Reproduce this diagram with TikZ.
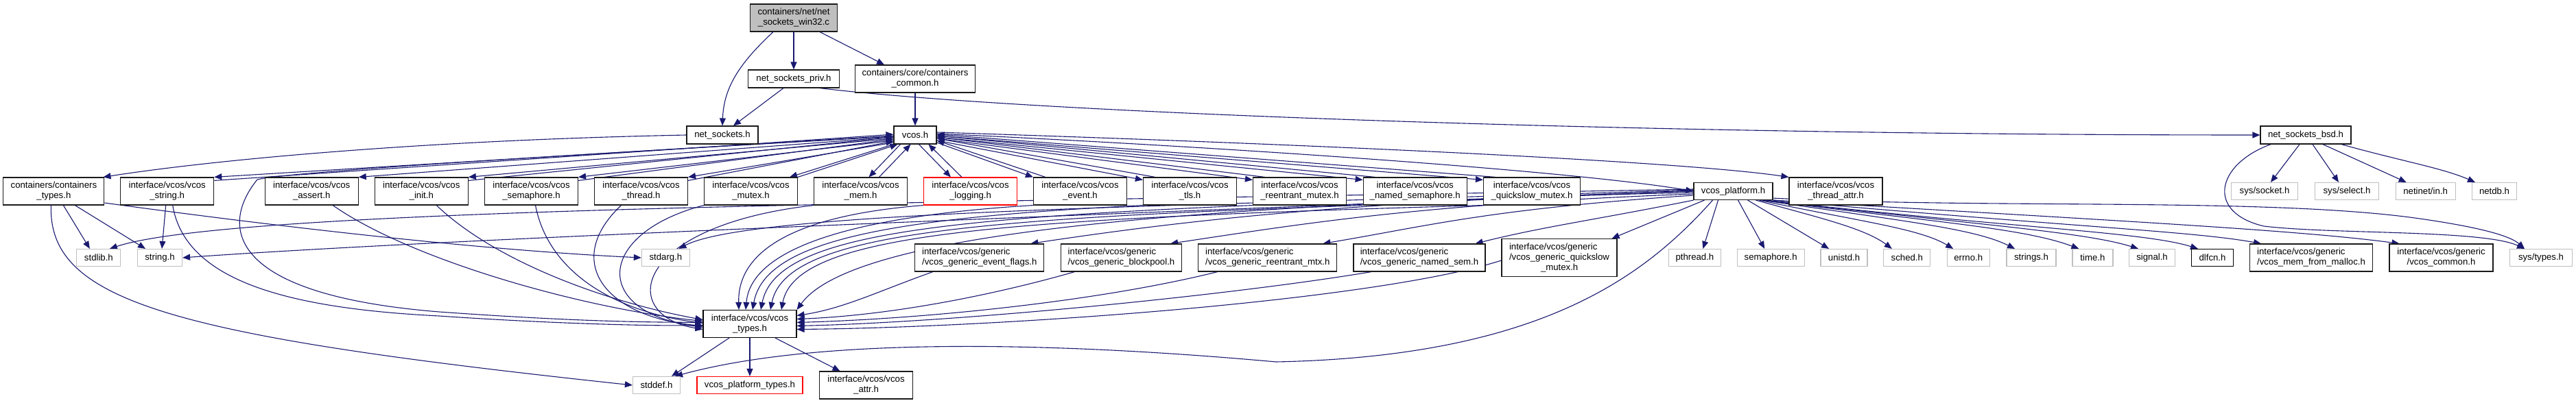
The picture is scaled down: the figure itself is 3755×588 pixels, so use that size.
\documentclass[tikz,border=0pt]{standalone}
\usepackage{fontspec}
\setmainfont{Liberation Sans}
\usetikzlibrary{arrows.meta}
\definecolor{edgec}{HTML}{191970}
\definecolor{grayb}{HTML}{BFBFBF}
\definecolor{boxb}{HTML}{1A1A1A}
\newcommand\dgfont{\fontsize{13.2}{15}\selectfont}
\pgfdeclarelayer{bg}
\pgfsetlayers{bg,main}
\begin{document}
\begin{tikzpicture}[x=1pt,y=-1pt,
  lnk/.style={draw=edgec,line width=1.1pt,-{Triangle[length=11pt,width=9pt]}},
  box/.style={draw=boxb,line width=1.15pt,fill=white,inner sep=0pt,align=center,font=\dgfont,minimum width=136pt,minimum height=40pt},
  gbox/.style={box,draw=grayb,minimum height=25pt},
  rbox/.style={box,draw=red},
  lbox/.style={box,align=left}]
\useasboundingbox (0,0) rectangle (3755,588);
% rank 0-2
\node[box,fill=grayb,minimum width=127pt] (root) at (1157,26) {containers/net/net\\\_sockets\_win32.c};
\node[box,minimum width=133pt,minimum height=26pt] (nspriv) at (1157,115) {net\_sockets\_priv.h};
\node[box,minimum width=175pt] (ccommon) at (1334,115) {containers/core/containers\\\_common.h};
\node[box,minimum width=104pt,minimum height=26pt] (ns) at (1053,197) {net\_sockets.h};
\node[box,minimum width=62pt,minimum height=26pt] (vcos) at (1334,197) {vcos.h};
\node[box,minimum width=132pt,minimum height=26pt] (bsd) at (3361,197) {net\_sockets\_bsd.h};
% rank 3
\node[box,minimum width=147pt] (ctypes) at (78.4,279) {containers/containers\\\_types.h};
\node[box] (vstring) at (243.7,279) {interface/vcos/vcos\\\_string.h};
\node[box] (vassert) at (454.2,279) {interface/vcos/vcos\\\_assert.h};
\node[box] (vinit) at (614.3,279) {interface/vcos/vcos\\\_init.h};
\node[box] (vsem) at (774.5,279) {interface/vcos/vcos\\\_semaphore.h};
\node[box] (vthread) at (934.5,279) {interface/vcos/vcos\\\_thread.h};
\node[box] (vmutex) at (1094.5,279) {interface/vcos/vcos\\\_mutex.h};
\node[box] (vmem) at (1254.5,279) {interface/vcos/vcos\\\_mem.h};
\node[rbox] (vlog) at (1414.5,279) {interface/vcos/vcos\\\_logging.h};
\node[box] (vevent) at (1574.5,279) {interface/vcos/vcos\\\_event.h};
\node[box] (vtls) at (1734.5,279) {interface/vcos/vcos\\\_tls.h};
\node[box] (vreent) at (1894.5,279) {interface/vcos/vcos\\\_reentrant\_mutex.h};
\node[box,minimum width=151pt] (vnamed) at (2062.7,279) {interface/vcos/vcos\\\_named\_semaphore.h};
\node[box,minimum width=141pt] (vquick) at (2233,279) {interface/vcos/vcos\\\_quickslow\_mutex.h};
\node[box,minimum width=115pt,minimum height=25pt] (platform) at (2526.5,279) {vcos\_platform.h};
\node[box] (tattr) at (2676,279) {interface/vcos/vcos\\\_thread\_attr.h};
\node[gbox,minimum width=97pt] (syssocket) at (3301,279) {sys/socket.h};
\node[gbox,minimum width=93pt] (sysselect) at (3421,279) {sys/select.h};
\node[gbox,minimum width=87pt] (netinet) at (3535.6,279) {netinet/in.h};
\node[gbox,minimum width=65pt] (netdb) at (3636,279) {netdb.h};
% rank 4
\node[gbox,minimum width=64pt] (stdlib) at (143.9,376) {stdlib.h};
\node[gbox,minimum width=65pt] (stringh) at (233,376) {string.h};
\node[gbox,minimum width=70pt] (stdarg) at (970.4,376) {stdarg.h};
\node[lbox,minimum width=188pt] (evflags) at (1427.8,376) {interface/vcos/generic\\/vcos\_generic\_event\_flags.h};
\node[lbox,minimum width=176pt] (blockpool) at (1634.5,376) {interface/vcos/generic\\/vcos\_generic\_blockpool.h};
\node[lbox,minimum width=202pt] (reentmtx) at (1847.8,376) {interface/vcos/generic\\/vcos\_generic\_reentrant\_mtx.h};
\node[lbox,minimum width=192pt] (namedsem) at (2069,376) {interface/vcos/generic\\/vcos\_generic\_named\_sem.h};
\node[lbox,minimum width=168pt,minimum height=55pt] (quickgen) at (2273,376) {interface/vcos/generic\\/vcos\_generic\_quickslow\\\hspace*{46pt}\_mutex.h};
\node[gbox,minimum width=76pt] (pthread) at (2470.4,376) {pthread.h};
\node[gbox,minimum width=98pt] (semh) at (2581.2,376) {semaphore.h};
\node[gbox,minimum width=68pt] (unistd) at (2688,376) {unistd.h};
\node[gbox,minimum width=68pt] (sched) at (2779.8,376) {sched.h};
\node[gbox,minimum width=62pt] (errno) at (2869.2,376) {errno.h};
\node[gbox,minimum width=72pt] (strings) at (2961,376) {strings.h};
\node[gbox,minimum width=59pt] (timeh) at (3050.4,376) {time.h};
\node[gbox,minimum width=67pt] (signal) at (3137,376) {signal.h};
\node[box,draw=black,minimum width=61pt,minimum height=25pt] (dlfcn) at (3225,376) {dlfcn.h};
\node[lbox,minimum width=179pt] (memmalloc) at (3369,376) {interface/vcos/generic\\/vcos\_mem\_from\_malloc.h};
\node[box,minimum width=151pt] (vcommon) at (3558.5,376) {interface/vcos/generic\\/vcos\_common.h};
\node[gbox,minimum width=91pt] (systypes) at (3704,376) {sys/types.h};
% rank 5-6
\node[box,draw=black] (vtypes) at (1093,472.5) {interface/vcos/vcos\\\_types.h};
\node[gbox,minimum width=69pt] (stddef) at (957,562) {stddef.h};
\node[rbox,minimum width=154pt,minimum height=25pt] (vptypes) at (1093,562) {vcos\_platform\_types.h};
\node[box] (vattr) at (1262.5,562) {interface/vcos/vcos\\\_attr.h};

\begin{pgfonlayer}{bg}
% root and sockets
\draw[lnk] ([xshift=-30pt]root.south) .. controls (1075,95) and (1055,130) .. (ns.north);
\draw[lnk] (root) -- (nspriv);
\draw[lnk] ([xshift=38pt]root.south) -- ([xshift=-45pt]ccommon.north);
\draw[lnk] ([xshift=-15pt]nspriv.south) -- ([xshift=16pt]ns.north);
\draw[lnk] ([xshift=38pt]nspriv.south) .. controls (1500,165) and (2400,197) .. (bsd.west);
\draw[lnk] (ns.west) .. controls (600,205) and (300,235) .. ([xshift=-2pt]ctypes.north east);
\draw[lnk] (ccommon) -- (vcos);
% vcos fan left
\draw[lnk] ([yshift=-1pt]vcos.west) -- (vstring.north east);
\draw[lnk] ([yshift=-5pt]vstring.north east) -- ([yshift=1pt]vcos.west);
\draw[lnk] ([yshift=-3pt]vcos.west) -- (vassert.north east);
\draw[lnk] ([yshift=-5pt]vcos.west) -- (vinit.north east);
\draw[lnk] ([yshift=-5pt]vinit.north east) -- ([yshift=-3pt]vcos.west);
\draw[lnk] ([yshift=-8pt]vcos.west) -- (vsem.north east);
\draw[lnk] ([yshift=-5pt]vsem.north east) -- ([yshift=-6pt]vcos.west);
\draw[lnk] ([yshift=-11pt]vcos.west) -- (vthread.north east);
\draw[lnk] ([yshift=-5pt]vthread.north east) -- ([yshift=-9pt]vcos.west);
\draw[lnk] (vcos.south west) -- ([xshift=-12pt]vmutex.north east);
\draw[lnk] (vmutex.north east) -- ([xshift=6pt]vcos.south west);
\draw[lnk] ([xshift=10pt]vcos.south west) -- ([xshift=12pt]vmem.north);
\draw[lnk] ([xshift=27pt]vmem.north) -- ([xshift=25pt]vcos.south west);
\draw[lnk] ([xshift=37pt]vcos.south west) -- ([xshift=40pt]vlog.north west);
\draw[lnk] ([xshift=56pt]vlog.north west) -- ([xshift=51pt]vcos.south west);
% vcos fan right
\draw[lnk] ([yshift=-11pt]vcos.east) -- (vevent.north west);
\draw[lnk] ([xshift=18pt]vevent.north west) -- ([yshift=-8pt]vcos.east);
\draw[lnk] ([yshift=-8pt]vcos.east) -- ([yshift=-4pt]vtls.north west);
\draw[lnk] ([xshift=18pt]vtls.north west) -- ([yshift=-5pt]vcos.east);
\draw[lnk] ([yshift=-5pt]vcos.east) -- ([yshift=-4pt]vreent.north west);
\draw[lnk] ([xshift=18pt]vreent.north west) -- ([yshift=-3pt]vcos.east);
\draw[lnk] ([yshift=-3pt]vcos.east) -- ([yshift=-4pt]vnamed.north west);
\draw[lnk] ([xshift=18pt]vnamed.north west) -- ([yshift=-1pt]vcos.east);
\draw[lnk] ([yshift=-1pt]vcos.east) -- ([yshift=-4pt]vquick.north west);
\draw[lnk] ([xshift=18pt]vquick.north west) -- ([yshift=1pt]vcos.east);
\draw[lnk] ([yshift=2pt]vcos.east) .. controls (1800,215) and (2300,250) .. (platform.west);
\draw[lnk] ([yshift=4pt]vcos.east) .. controls (1900,210) and (2450,235) .. (tattr.north west);
% vcos -> vtypes (around the left)
\draw[lnk] ([yshift=-2pt]vcos.west) .. controls (900,222) and (420,250) .. (375,262) .. controls (320,330) and (330,430) .. (640,455) .. controls (850,470) and (950,470) .. ([yshift=2pt]vtypes.west);
% containers_types
\draw[lnk] ([xshift=14pt]ctypes.south) -- ([xshift=-13pt]stdlib.north);
\draw[lnk] ([xshift=31pt]ctypes.south) -- ([xshift=-21pt]stringh.north);
\draw[lnk] ([xshift=-4pt]ctypes.south) .. controls (70,440) and (250,490) .. (stddef.west);
\draw[lnk] ([yshift=-17pt]ctypes.east) .. controls (400,330) and (700,365) .. (stdarg.west);
\draw[lnk] ([xshift=-2pt]vstring.south) -- ([xshift=3pt]stringh.north);
% row 3 -> vtypes
\draw[lnk] ([xshift=8pt]vstring.south) .. controls (270,410) and (420,450) .. (640,461) .. controls (800,472) and (950,476) .. ([yshift=-2pt]vtypes.west);
\draw[lnk] ([xshift=31pt]vassert.south) .. controls (600,380) and (850,450) .. ([yshift=4pt]vtypes.west);
\draw[lnk] ([xshift=22pt]vinit.south) .. controls (720,380) and (880,440) .. ([yshift=6pt]vtypes.west);
\draw[lnk] ([xshift=6pt]vsem.south) .. controls (800,400) and (900,455) .. ([yshift=1pt]vtypes.west);
\draw[lnk] ([xshift=-29pt]vthread.south) .. controls (820,380) and (880,462) .. ([yshift=-3pt]vtypes.west);
\draw[lnk] (vmutex.south west) .. controls (870,340) and (860,455) .. ([yshift=-5pt]vtypes.west);
\draw[lnk] (vmem.south west) .. controls (920,330) and (900,460) .. ([yshift=-8pt]vtypes.west);
\draw[lnk] (vlog.south west) .. controls (1150,315) and (1075,370) .. ([xshift=-16pt]vtypes.north);
\draw[lnk] (vevent.south west) .. controls (1250,315) and (1095,360) .. ([xshift=-6pt]vtypes.north);
\draw[lnk] (vtls.south west) .. controls (1300,318) and (1115,350) .. ([xshift=4pt]vtypes.north);
\draw[lnk] (vreent.south west) .. controls (1350,320) and (1130,345) .. ([xshift=16pt]vtypes.north);
\draw[lnk] (vnamed.south west) .. controls (1400,320) and (1145,342) .. ([xshift=30pt]vtypes.north);
\draw[lnk] (vquick.south west) .. controls (1450,320) and (1160,340) .. ([xshift=46pt]vtypes.north);
% generic -> vtypes
\draw[lnk] ([xshift=-68pt]evflags.south) .. controls (1280,425) and (1230,450) .. ([yshift=12pt]vtypes.east);
\draw[lnk] ([xshift=-68pt]blockpool.south) .. controls (1450,430) and (1300,460) .. ([yshift=7pt]vtypes.east);
\draw[lnk] ([xshift=-73pt]reentmtx.south) .. controls (1600,440) and (1350,465) .. ([yshift=2pt]vtypes.east);
\draw[lnk] ([xshift=-70pt]namedsem.south) .. controls (1800,430) and (1400,470) .. ([yshift=-3pt]vtypes.east);
\draw[lnk] ([yshift=-4pt]quickgen.west) .. controls (2000,440) and (1450,478) .. ([yshift=-8pt]vtypes.east);
% vtypes
\draw[lnk] ([xshift=-30pt]vtypes.south) -- ([xshift=22pt]stddef.north);
\draw[lnk] (vtypes) -- (vptypes);
\draw[lnk] ([xshift=37pt]vtypes.south) -- ([xshift=-38pt]vattr.north);
% platform -> left
\draw[lnk] ([xshift=-42pt]platform.south) -- ([xshift=-8pt]quickgen.north east);
\draw[lnk] (platform.south west) .. controls +(-150,30) and +(100,-25) .. ([xshift=-15pt]namedsem.north east);
\draw[lnk] ([yshift=-6pt]platform.west) .. controls +(-300,20) and +(150,-25) .. ([xshift=-21pt]reentmtx.north east);
\draw[lnk] ([yshift=-4pt]platform.west) .. controls +(-400,15) and +(200,-30) .. ([xshift=-17pt]blockpool.north east);
\draw[lnk] ([yshift=-2pt]platform.west) .. controls +(-500,10) and +(200,-30) .. ([xshift=-20pt]evflags.north east);
\draw[lnk] (platform.west) .. controls (1800,300) and (1250,330) .. (vtypes.north east);
\draw[lnk] ([yshift=2pt]platform.west) .. controls (1800,300) and (1100,305) .. ([xshift=19pt]stdarg.north);
\draw[lnk] ([yshift=1pt]platform.west) .. controls (1700,310) and (700,345) .. (stringh.east);
\draw[lnk] ([yshift=3pt]platform.west) .. controls (1500,295) and (350,300) .. ([xshift=16pt]stdlib.north);
\draw[lnk] ([xshift=-30pt]platform.south) .. controls (2400,400) and (2250,520) .. (1860,528) .. controls (1550,500) and (1200,490) .. ([xshift=-8pt]stddef.north east);
% platform -> right
\draw[lnk] ([xshift=-22pt]platform.south) -- ([xshift=12pt]pthread.north);
\draw[lnk] ([xshift=7pt]platform.south) -- ([xshift=-9pt]semh.north);
\draw[lnk] ([xshift=21pt]platform.south) -- ([xshift=-22pt]unistd.north);
\draw[lnk] ([xshift=33pt]platform.south) .. controls +(90,25) and +(-40,-30) .. ([xshift=-22pt]sched.north);
\draw[lnk] ([xshift=38pt]platform.south) .. controls +(140,30) and +(-50,-30) .. ([xshift=-22pt]errno.north);
\draw[lnk] ([xshift=42pt]platform.south) .. controls +(200,30) and +(-60,-30) .. ([xshift=-24pt]strings.north);
\draw[lnk] ([xshift=44pt]platform.south) .. controls +(250,32) and +(-80,-30) .. ([xshift=-20pt]timeh.north);
\draw[lnk] ([xshift=46pt]platform.south) .. controls +(300,35) and +(-80,-25) .. ([xshift=-20pt]signal.north);
\draw[lnk] ([xshift=48pt]platform.south) .. controls +(350,40) and +(-80,-25) .. ([xshift=-21pt]dlfcn.north);
\draw[lnk] (platform.south east) .. controls +(450,40) and +(-100,-18) .. ([xshift=-73pt]memmalloc.north);
\draw[lnk] (platform.south east) .. controls +(500,30) and +(-150,-20) .. ([xshift=-61pt]vcommon.north);
\draw[lnk] ([yshift=3pt]platform.south east) .. controls (2900,305) and (3300,288) .. (3520,318) .. controls (3620,332) and (3660,345) .. ([xshift=-24pt]systypes.north);
% bsd
\draw[lnk] ([xshift=-9pt]bsd.south) -- ([xshift=9pt]syssocket.north);
\draw[lnk] ([xshift=10pt]bsd.south) -- ([xshift=-12pt]sysselect.north);
\draw[lnk] ([xshift=25pt]bsd.south) -- ([xshift=-28pt]netinet.north);
\draw[lnk] ([xshift=52pt]bsd.south) .. controls (3500,235) and (3560,245) .. ([xshift=-28pt]netdb.north);
\draw[lnk] ([xshift=-51pt]bsd.south) .. controls (3230,240) and (3215,310) .. (3300,330) .. controls (3400,342) and (3620,335) .. ([xshift=-24pt]systypes.north);
\end{pgfonlayer}
\end{tikzpicture}
\end{document}
